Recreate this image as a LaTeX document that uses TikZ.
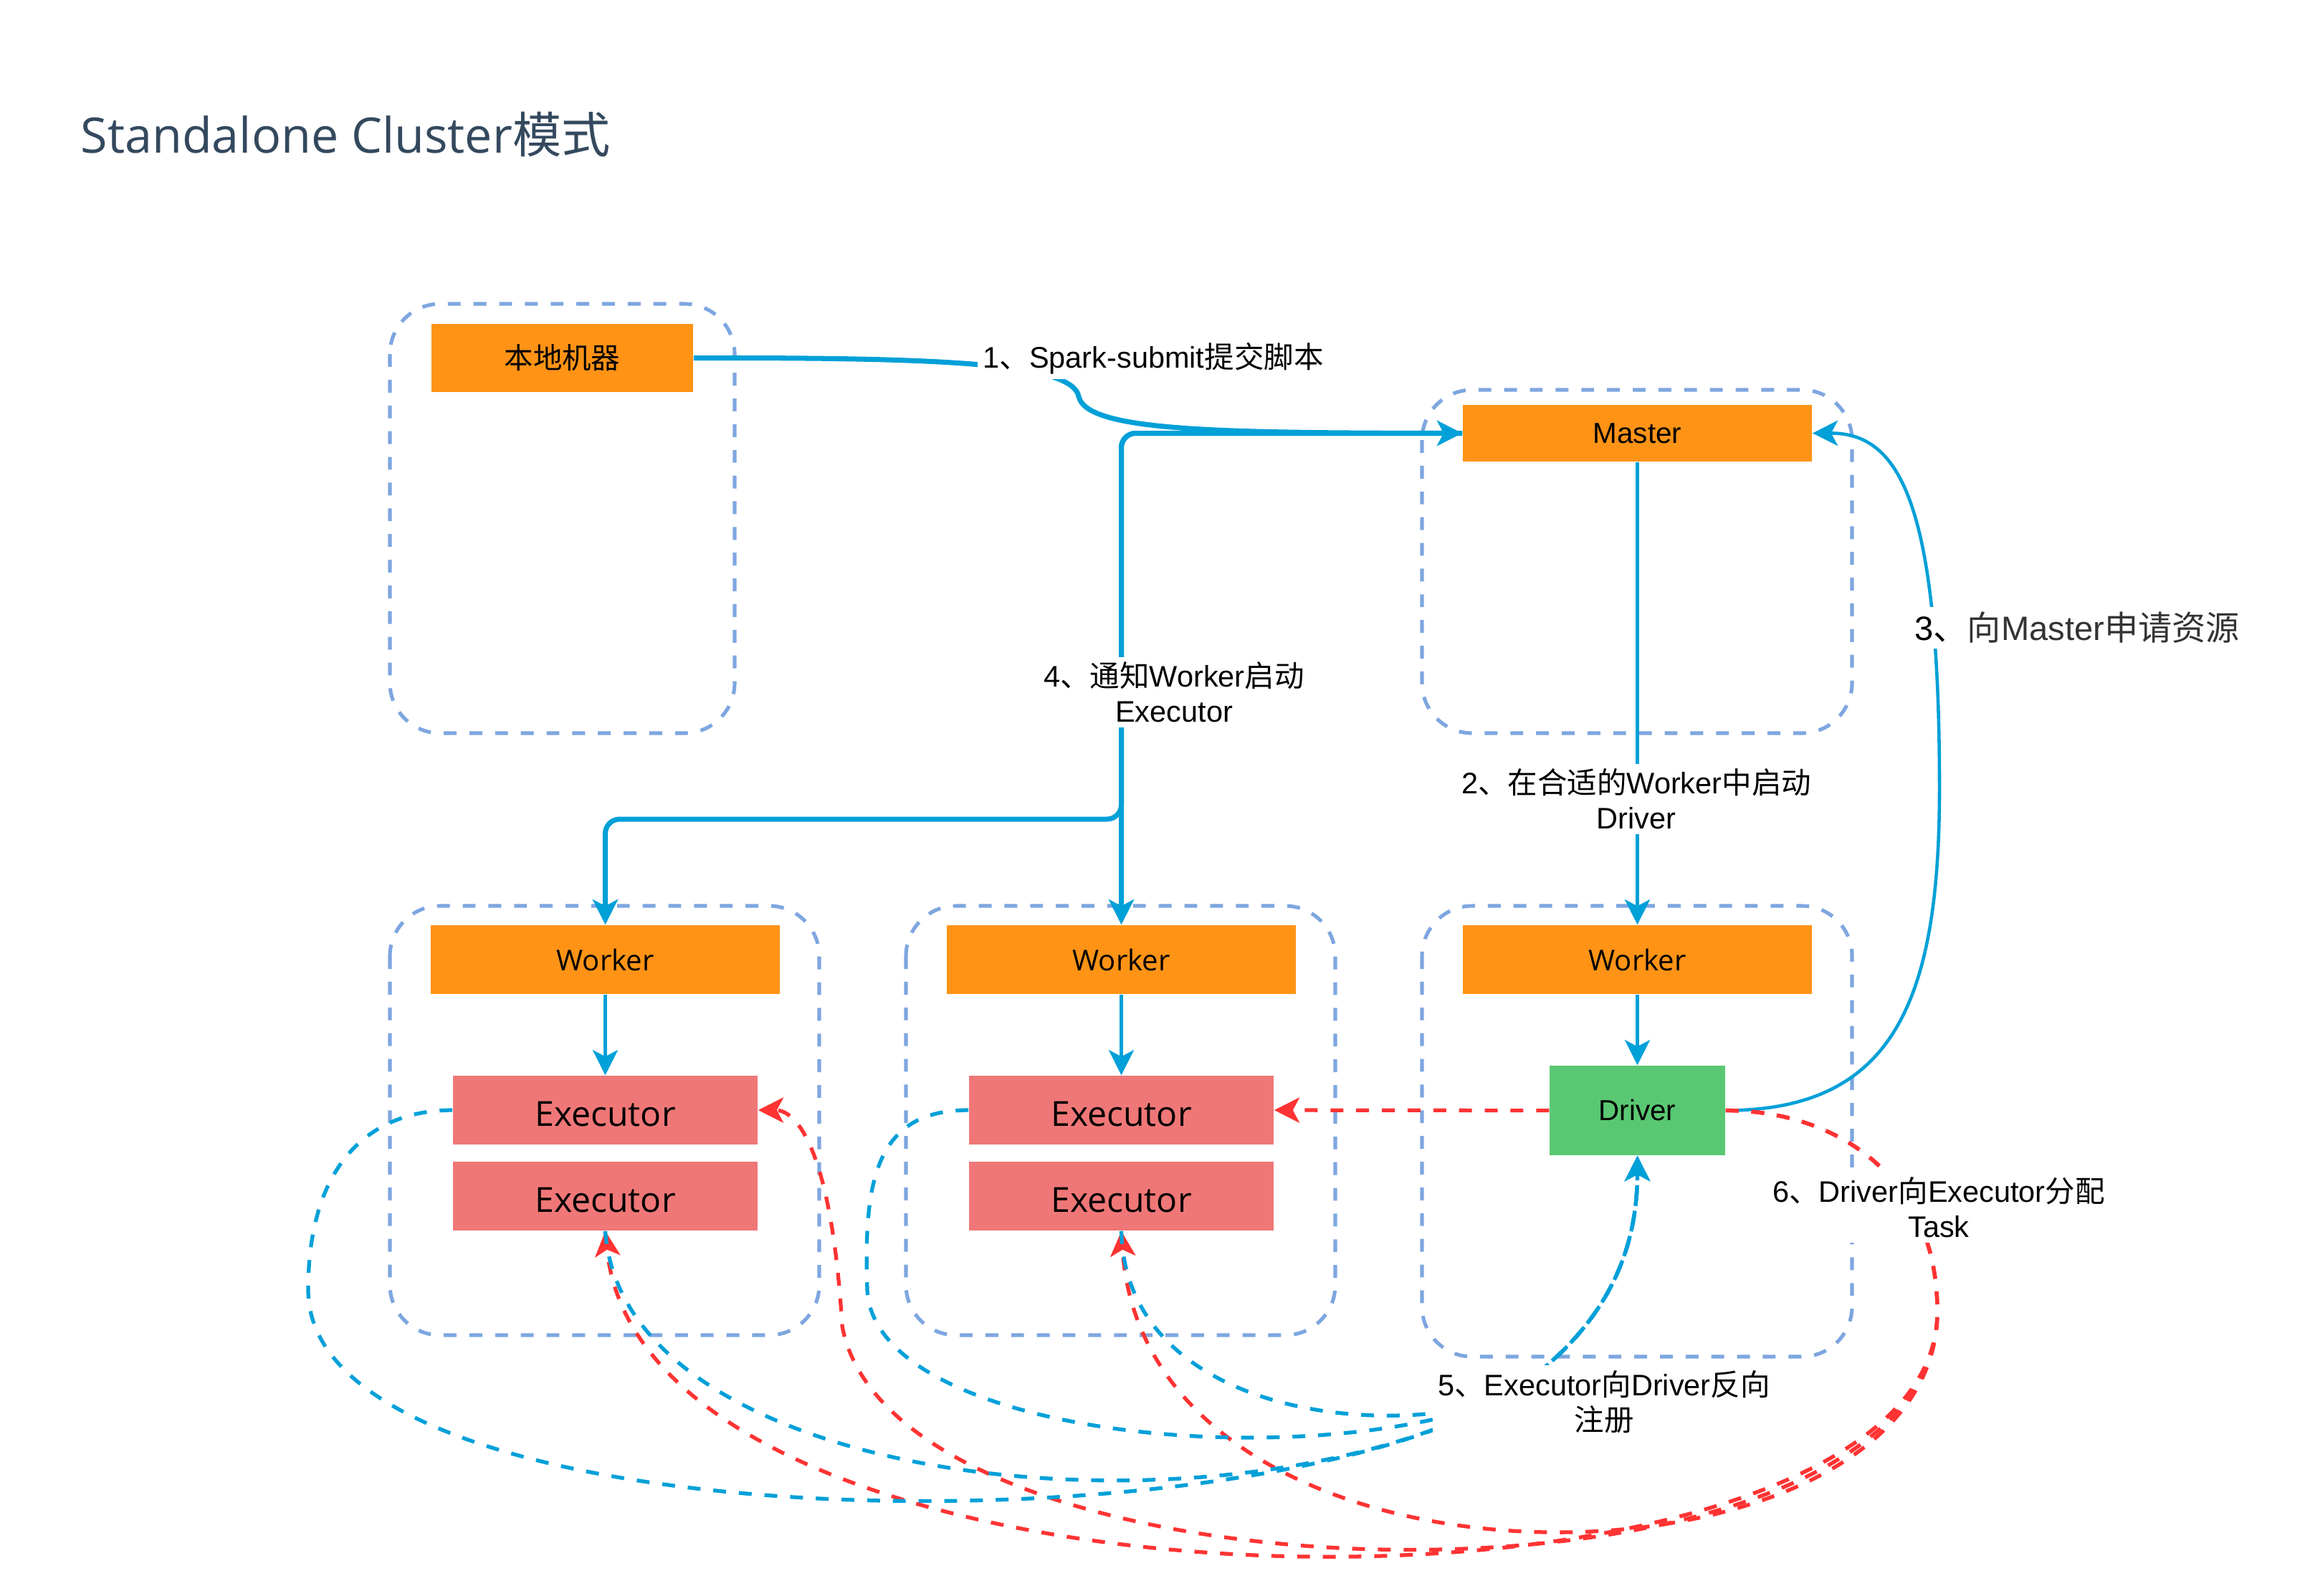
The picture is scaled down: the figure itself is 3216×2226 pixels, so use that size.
\documentclass[tikz,border=0pt]{standalone}
\usepackage{fontspec}
\setmainfont{Liberation Sans}
\newfontfamily\cjk{Noto Sans CJK SC}
\newfontfamily\segoe{Open Sans}
\usetikzlibrary{arrows.meta}

\definecolor{grpblue}{HTML}{7EA6E0}
\definecolor{boxorange}{HTML}{FF9316}
\definecolor{execred}{HTML}{F07777}
\definecolor{drvgreen}{HTML}{5AC873}
\definecolor{flowblue}{HTML}{00A0D8}
\definecolor{taskred}{HTML}{FF3333}
\definecolor{titlecol}{HTML}{34495E}

\tikzset{
    grp/.style={draw=grpblue, line width=1.45pt, dash pattern=on 5.1pt off 5.1pt, rounded corners=0.7cm},
    box/.style={inner sep=0pt, text=black},
    orangebox/.style={box, fill=boxorange, minimum width=4.87cm, minimum height=0.96cm,
        font=\fontsize{11.5}{14}\selectfont},
    workerbox/.style={orangebox, font=\segoe\fontsize{11.4}{14}\selectfont},
    execbox/.style={box, fill=execred, minimum width=4.25cm, minimum height=0.96cm,
        text height=12.8pt, text depth=0pt, font=\segoe\fontsize{13.7}{16}\selectfont},
    drvbox/.style={box, fill=drvgreen, minimum width=2.45cm, minimum height=1.25cm,
        font=\fontsize{11.5}{14}\selectfont},
    tip/.style={-{Stealth[length=10pt, width=10pt, inset=2.6pt]}},
    flow/.style={draw=flowblue, line width=1.3pt, tip},
    thickflow/.style={flow, line width=2pt},
    taskflow/.style={draw=taskred, line width=1.5pt, dash pattern=on 5.1pt off 5.1pt, tip},
    regflow/.style={draw=flowblue, line width=1.5pt, dash pattern=on 5.1pt off 5.1pt, tip},
    elabel/.style={fill=white, inner sep=2pt, align=center, font=\fontsize{11.8}{14}\selectfont},
}

\begin{document}
\begin{tikzpicture}[x=0.01cm, y=-0.01cm]
    \useasboundingbox (0,0) rectangle (3216,2226);

    \node[anchor=base west, inner sep=0pt, text=titlecol, font=\segoe\fontsize{19.4}{24}\selectfont]
        (title) at (112,213) {Standalone Cluster{\cjk 模式}};

    %% machine groups
    \draw[grp] (544,424) rectangle (1025,1023);
    \draw[grp] (1984,544) rectangle (2584,1023);
    \draw[grp] (544,1264) rectangle (1143,1863);
    \draw[grp] (1264,1264) rectangle (1863,1863);
    \draw[grp] (1984,1264) rectangle (2584,1893);

    %% boxes
    \node[orangebox, minimum width=3.65cm, minimum height=0.95cm] (local) at (784.5,499.5) {\cjk 本地机器};
    \node[orangebox, minimum height=0.79cm] (master) at (2284.5,604.5) {Master};
    \node[workerbox] (worker1) at (844.5,1339) {Worker};
    \node[workerbox] (worker2) at (1564.5,1339) {Worker};
    \node[workerbox] (worker3) at (2284.5,1339) {Worker};
    \node[execbox] (exec1a) at (844.5,1549) {Executor};
    \node[execbox] (exec1b) at (844.5,1669) {Executor};
    \node[execbox] (exec2a) at (1564.5,1549) {Executor};
    \node[execbox] (exec2b) at (1564.5,1669) {Executor};
    \node[drvbox] (driver) at (2284.5,1549.5) {Driver};

    %% solid flows
    \draw[thickflow] (local.east) .. controls (1300,499) and (1495,505) .. (1505,553)
        .. controls (1515,602) and (1700,604) .. (master.west);
    \draw[flow] (master.south) -- (worker3.north);
    \draw[flow] (driver.east) .. controls (2640,1549) and (2706,1400) .. (2706,1100)
        .. controls (2706,700) and (2650,604) .. (master.east);
    \coordinate (split) at (1564.5,1143);
    \draw[thickflow, rounded corners=0.2cm] (master.west) -| (worker2.north);
    \draw[thickflow, rounded corners=0.2cm] (master.west) -| (split) -| (worker1.north);
    \draw[flow] (worker1.south) -- (exec1a.north);
    \draw[flow] (worker2.south) -- (exec2a.north);
    \draw[flow] (worker3.south) -- (driver.north);

    %% driver hands out tasks
    \draw[taskflow] (driver.west) -- (exec2a.east);
    \draw[taskflow] (driver.east) .. controls (2560,1549) and (2703,1640) .. (2703,1830)
        .. controls (2703,2240) and (1600,2270) .. (exec2b.south);
    \draw[taskflow] (driver.east) .. controls (2560,1549) and (2703,1640) .. (2703,1830)
        .. controls (2703,2300) and (900,2300) .. (exec1b.south);
    \draw[taskflow] (driver.east) .. controls (2560,1549) and (2703,1640) .. (2703,1830)
        .. controls (2703,2280) and (1250,2260) .. (1175,1850)
        .. controls (1160,1600) and (1110,1549) .. (exec1a.east);

    %% executors register back
    \coordinate (reg) at (2090,1955);
    \draw[regflow] (exec1a.west) .. controls (520,1549) and (430,1620) .. (430,1800)
        .. controls (430,2150) and (1700,2170) .. (reg)
        .. controls (2210,1880) and (2284.5,1780) .. (driver.south);
    \draw[regflow] (exec1b.south) .. controls (870,2080) and (1700,2160) .. (reg)
        .. controls (2210,1880) and (2284.5,1780) .. (driver.south);
    \draw[regflow] (exec2a.west) .. controls (1220,1549) and (1205,1650) .. (1210,1800)
        .. controls (1220,2000) and (1800,2060) .. (reg)
        .. controls (2210,1880) and (2284.5,1780) .. (driver.south);
    \draw[regflow] (exec2b.south) .. controls (1570,1960) and (1900,2010) .. (reg)
        .. controls (2210,1880) and (2284.5,1780) .. (driver.south);

    %% labels
    \node[elabel] (lbl1) at (1609,500) {1{\cjk 、}Spark-submit{\cjk 提交脚本}};
    \node[elabel] (lbl2) at (2283,1115) {2{\cjk 、在合适的}Worker{\cjk 中启动}\\Driver};
    \node[elabel, font=\fontsize{13.4}{16}\selectfont, text=black!80] (lbl3) at (2898,876)
        {\textcolor{black}{3{\cjk 、}}{\cjk 向}Master{\cjk 申请资源}};
    \node[elabel] (lbl4) at (1638,966) {4{\cjk 、通知}Worker{\cjk 启动}\\Executor};
    \node[elabel] (lbl5) at (2238,1956) {5{\cjk 、}Executor{\cjk 向}Driver{\cjk 反向}\\{\cjk 注册}};
    \node[elabel] (lbl6) at (2705,1685) {6{\cjk 、}Driver{\cjk 向}Executor{\cjk 分配}\\Task};
\end{tikzpicture}
\end{document}
